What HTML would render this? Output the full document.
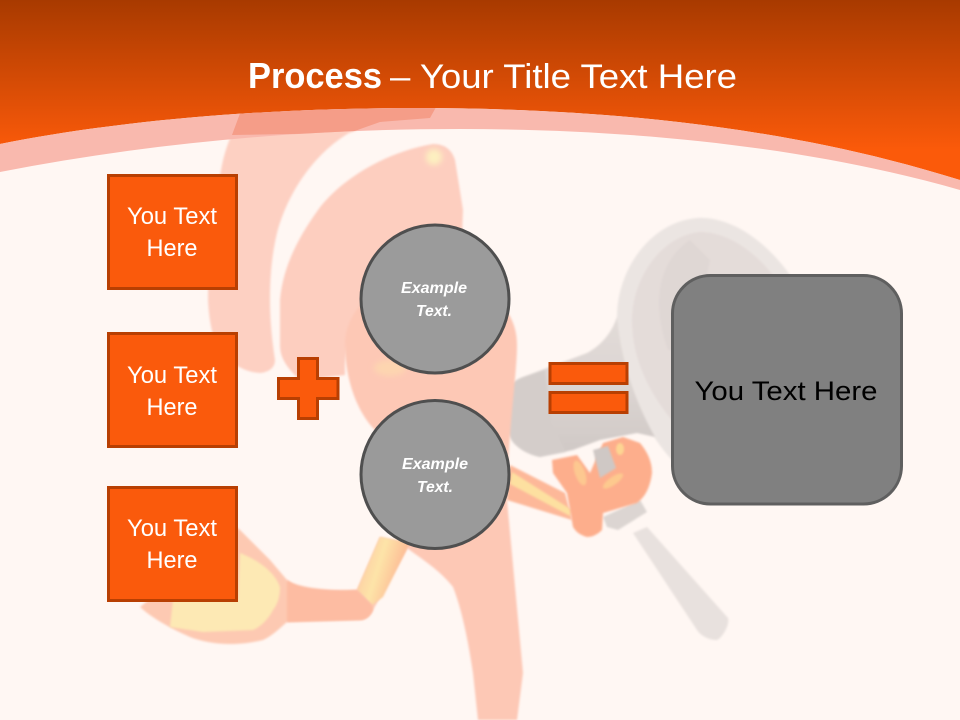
<!DOCTYPE html>
<html>
<head>
<meta charset="utf-8">
<style>
html,body{margin:0;padding:0;background:#fff7f3;}
svg{display:block;}
text{font-family:"Liberation Sans",sans-serif;}
</style>
</head>
<body>
<svg width="960" height="720" viewBox="0 0 960 720" xmlns="http://www.w3.org/2000/svg">
<defs>
<linearGradient id="hd" gradientUnits="userSpaceOnUse" x1="0" y1="0" x2="0" y2="150">
<stop offset="0" stop-color="#a83a00"/><stop offset="1" stop-color="#fb5a0a"/>
</linearGradient>
<linearGradient id="limb" x1="0" y1="0" x2="1" y2="0.4">
<stop offset="0" stop-color="#fdc0a2"/><stop offset="0.5" stop-color="#fde4a8"/><stop offset="1" stop-color="#fdb090"/>
</linearGradient>
<linearGradient id="cyl" x1="0" y1="0" x2="0" y2="1">
<stop offset="0" stop-color="#e2dbd8"/><stop offset="0.5" stop-color="#dcd5d2"/><stop offset="1" stop-color="#cfc8c5"/>
</linearGradient>
<clipPath id="bandclip"><path d="M0,144 C130,118 280,108 416,108 C620,108 800,130 960,180 V190 C820,150 650,129 460,129 C300,129 150,143 0,172 Z"/></clipPath>
<filter id="b1" x="-20%" y="-20%" width="140%" height="140%"><feGaussianBlur stdDeviation="1"/></filter>
<filter id="b3" x="-50%" y="-50%" width="200%" height="200%"><feGaussianBlur stdDeviation="3"/></filter>
</defs>

<rect width="960" height="720" fill="#fff7f3"/>

<!-- megaphone -->
<g filter="url(#b1)">
<path d="M697,218 C730,216 765,240 790,275 L800,400 L690,470 L672,460 C640,425 617,370 617,317 C617,270 650,222 697,218 Z" fill="#ebe5e2"/>
<path d="M700,232 C730,232 760,255 780,285 L780,400 L690,440 C660,410 632,370 632,320 C632,280 660,236 700,232 Z" fill="#e4dcd9"/>
<path d="M690,240 C660,260 650,300 668,350 L690,350 L710,260 Z" fill="#dfd7d4"/>
<path d="M500,403 C503,390 512,381 523,377 L587,353 C602,345 612,332 617,317 C622,370 640,410 655,437 L637,433 L600,440 L573,450 L540,457 C525,454 513,445 510,437 C503,425 499,415 500,403 Z" fill="url(#cyl)"/>
<path d="M523,377 L545,370 L552,425 L566,452 L540,457 C525,454 513,445 510,437 C503,425 499,415 500,403 C503,390 512,381 523,377 Z" fill="#d4cdca"/>
<path d="M603,517 L640,500 L647,512 L618,530 L607,527 Z" fill="#dcd5d2"/>
<path d="M633,533 L647,527 L728,618 C730,625 722,638 717,640 C708,640 700,635 697,630 Z" fill="#e8e1de"/>
</g>

<!-- outer arc arm -->
<path d="M245,108 C235,125 226,145 222,165 C214,205 208,255 208,300 C209,320 212,335 217,345 C230,365 245,372 260,373 C270,372 275,367 275,360 C272,340 270,320 270,300 C270,270 273,250 277,233 C290,185 320,150 349,133 L380,122 L438,112 L430,105 Z" fill="#fdd0c2" filter="url(#b1)"/>
<!-- inner arc arm -->
<path d="M433,144 C445,144 452,150 455,160 L463,210 L462,235 L420,300 L365,310 C352,325 344,345 345,375 L300,380 C287,368 280,358 280,345 L280,300 C283,265 300,235 318,210 C340,180 385,152 433,144 Z" fill="#fdcebf" filter="url(#b1)"/>
<circle cx="434" cy="157" r="8" fill="#fdf0c0" filter="url(#b3)"/>
<!-- body and torso -->
<path d="M345,345 C345,310 375,280 430,280 C490,280 517,310 517,345 C517,375 508,430 507,500 L523,673 L517,720 L478,720 L473,673 C468,640 462,610 453,587 C440,570 420,558 407,548 L375,430 C355,410 345,375 345,345 Z" fill="#fdc8b5" filter="url(#b1)"/>
<ellipse cx="390" cy="368" rx="16" ry="8" fill="#fdd5b0" filter="url(#b3)"/>

<!-- left foot -->
<path d="M238,528 L270,560 L287,580 C295,587 300,589 303,590 C320,591 340,591 357,590 L380,537 L410,543 L373,610 C370,617 365,620 360,620 L287,622 C280,628 272,636 263,640 C250,643 240,644 230,644 C215,644 200,641 190,637 C170,628 152,618 140,607 Z" fill="#fdc9b2" filter="url(#b1)"/>
<path d="M173,600 L238,600 L240,553 C258,560 275,572 280,587 C280,598 277,605 273,610 C268,620 260,627 253,630 L203,632 L170,627 Z" fill="#fde9b4" filter="url(#b1)"/>
<path d="M357,590 L380,537 L410,543 L383,597 L372,605 Z" fill="url(#limb)" filter="url(#b1)"/>
<path d="M287,580 C300,589 335,591 357,590 L372,605 L373,610 C370,617 365,620 360,620 L287,622 Z" fill="#fdbca2" filter="url(#b1)"/>

<!-- right arm and hand -->
<path d="M510,465 L565,493 L572,520 L507,500 Z" fill="#fdb899" filter="url(#b1)"/>
<path d="M512,472 L572,510 L570,516 L510,484 Z" fill="#fde0a0" filter="url(#b1)"/>
<path d="M552,460 L577,455 L590,473 L603,443 L623,437 L640,443 C650,455 652,465 652,473 C650,488 645,497 637,503 L603,513 L602,530 C597,535 592,537 587,537 C580,535 576,532 573,527 L567,493 L553,473 Z" fill="#fdae8c" filter="url(#b1)"/>
<ellipse cx="580" cy="473" rx="5" ry="13" transform="rotate(-20 580 473)" fill="#fdc890" filter="url(#b1)"/>
<ellipse cx="620" cy="449" rx="4" ry="6" fill="#fdd592" filter="url(#b1)"/>
<ellipse cx="613" cy="481" rx="12" ry="4" transform="rotate(-35 613 481)" fill="#fdc98e" filter="url(#b1)"/>
<path d="M593,450 L608,446 L616,468 L600,478 Z" fill="#cfc8c5" filter="url(#b1)"/>

<!-- header -->
<path d="M0,0 H960 V180 C800,130 620,108 416,108 C280,108 130,118 0,144 Z" fill="url(#hd)"/>
<path d="M0,144 C130,118 280,108 416,108 C620,108 800,130 960,180 V190 C820,150 650,129 460,129 C300,129 150,143 0,172 Z" fill="#f9b9ae"/>
<g clip-path="url(#bandclip)">
<path d="M245,100 L232,135 L349,133 L380,122 L430,118 L440,100 Z" fill="#f59d88"/>
</g>

<text x="248" y="88" font-size="36" font-weight="bold" fill="#ffffff" textLength="134" lengthAdjust="spacingAndGlyphs">Process</text>
<text x="390" y="88" font-size="34" fill="#ffffff" textLength="347" lengthAdjust="spacingAndGlyphs">– Your Title Text Here</text>

<!-- boxes -->
<g fill="#fa5a0c" stroke="#b83f02" stroke-width="3">
<rect x="108.5" y="175.5" width="128" height="113"/>
<rect x="108.5" y="333.5" width="128" height="113"/>
<rect x="108.5" y="487.5" width="128" height="113"/>
<path d="M298.5,358.5 H317.5 V378.5 H338 V398.5 H317.5 V418.5 H298.5 V398.5 H278.5 V378.5 H298.5 Z"/>
<rect x="550" y="363.5" width="77" height="20"/>
<rect x="550" y="392.5" width="77" height="20"/>
</g>
<g font-size="24" fill="#ffffff" text-anchor="middle">
<text x="172" y="224" textLength="90" lengthAdjust="spacingAndGlyphs">You Text</text>
<text x="172" y="256" textLength="51" lengthAdjust="spacingAndGlyphs">Here</text>
<text x="172" y="383" textLength="90" lengthAdjust="spacingAndGlyphs">You Text</text>
<text x="172" y="415" textLength="51" lengthAdjust="spacingAndGlyphs">Here</text>
<text x="172" y="536" textLength="90" lengthAdjust="spacingAndGlyphs">You Text</text>
<text x="172" y="568" textLength="51" lengthAdjust="spacingAndGlyphs">Here</text>
</g>

<!-- circles -->
<circle cx="435" cy="299" r="74" fill="#9b9b9b" stroke="#4f4f4f" stroke-width="3"/>
<circle cx="435" cy="474.5" r="74" fill="#9a9a9a" stroke="#4f4f4f" stroke-width="3"/>
<g font-size="16" font-weight="bold" font-style="italic" fill="#ffffff" text-anchor="middle">
<text x="434" y="293" textLength="66" lengthAdjust="spacingAndGlyphs">Example</text>
<text x="434" y="316" textLength="36" lengthAdjust="spacingAndGlyphs">Text.</text>
<text x="435" y="469" textLength="66" lengthAdjust="spacingAndGlyphs">Example</text>
<text x="435" y="492" textLength="36" lengthAdjust="spacingAndGlyphs">Text.</text>
</g>

<!-- rounded box -->
<rect x="672.5" y="275.5" width="229" height="228.5" rx="38" ry="38" fill="#808080" stroke="#5f5f5f" stroke-width="3"/>
<text x="786" y="400" font-size="27" fill="#000000" text-anchor="middle" textLength="183" lengthAdjust="spacingAndGlyphs">You Text Here</text>
</svg>
</body>
</html>
